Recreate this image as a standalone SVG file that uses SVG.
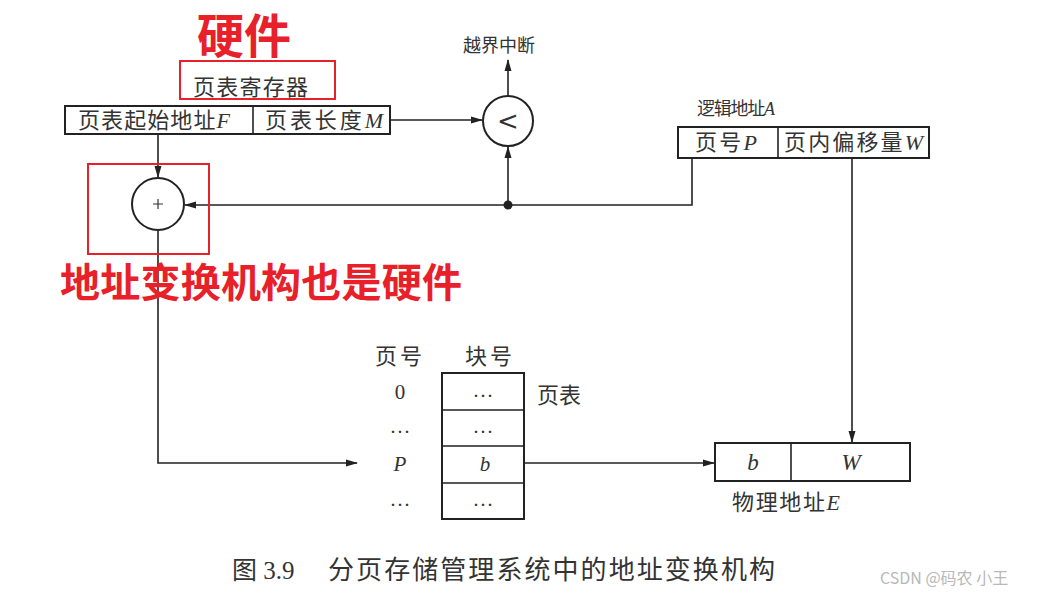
<svg xmlns="http://www.w3.org/2000/svg" width="1041" height="596" viewBox="0 0 1041 596">
<defs>
<marker id="arr" markerWidth="12" markerHeight="8" refX="11" refY="4" orient="auto" markerUnits="userSpaceOnUse">
<path d="M0,0.5 L12,4 L0,7.5 z" fill="#222"/>
</marker>
<style>
.ln{stroke:#222;stroke-width:1.6;fill:none}
.bx{stroke:#222;stroke-width:2;fill:#fff}
.t{font-family:"Noto Sans CJK SC","Liberation Serif",serif;fill:#333}
.v{font-family:"Liberation Serif",serif;font-style:italic}
.red{font-family:"Noto Sans CJK SC",sans-serif;fill:#e8202a;font-weight:bold}
.rb{stroke:#e8202a;stroke-width:2;fill:none}
</style>
</defs>
<rect width="1041" height="596" fill="#fff"/>

<g id="connectors">
<path class="ln" d="M158,134 V177" marker-end="url(#arr)"/>
<path class="ln" d="M692,158 V205 H185" marker-end="url(#arr)"/>
<path class="ln" d="M508,205 V147" marker-end="url(#arr)"/>
<path class="ln" d="M390,120 H482" marker-end="url(#arr)"/>
<path class="ln" d="M508,96 V60" marker-end="url(#arr)"/>
<path class="ln" d="M158,231 V463 H357" marker-end="url(#arr)"/>
<path class="ln" d="M524,463 H714" marker-end="url(#arr)"/>
<path class="ln" d="M852,158 V442" marker-end="url(#arr)"/>
<circle cx="508" cy="205" r="4.5" fill="#222"/>
</g>

<g id="hw-label">
<text class="red" x="197" y="53" font-size="47">硬件</text>
<rect class="rb" x="180" y="61" width="155" height="38"/>
</g>

<g id="page-table-register">
<text class="t" x="193" y="95" font-size="22" textLength="115" lengthAdjust="spacing">页表寄存器</text>
<rect class="bx" x="65" y="106" width="325" height="28"/>
<line class="ln" x1="253" y1="106" x2="253" y2="134" stroke-width="2"/>
<text class="t" x="78" y="128" font-size="22" textLength="152" lengthAdjust="spacing">页表起始地址<tspan class="v">F</tspan></text>
<text class="t" x="265" y="128" font-size="22" textLength="118" lengthAdjust="spacing">页表长度<tspan class="v">M</tspan></text>
</g>

<g id="compare">
<circle class="bx" cx="508" cy="121" r="25"/>
<text x="508" y="130" text-anchor="middle" font-family="DejaVu Sans, sans-serif" font-size="26" fill="#333">&lt;</text>
<text class="t" x="463" y="52" font-size="18" textLength="72" lengthAdjust="spacing">越界中断</text>
</g>

<g id="adder">
<circle class="bx" cx="158" cy="204" r="26"/>
<path d="M153,204 H163 M158,199 V209" stroke="#333" stroke-width="1.2"/>
<rect class="rb" x="88" y="164" width="121" height="90"/>
<text class="red" x="60" y="297" font-size="40" textLength="402" lengthAdjust="spacing">地址变换机构也是硬件</text>
</g>

<g id="logical-address">
<text class="t" x="697" y="115" font-size="18" textLength="78" lengthAdjust="spacing">逻辑地址<tspan class="v">A</tspan></text>
<rect class="bx" x="678" y="127" width="251" height="31"/>
<line class="ln" x1="778" y1="127" x2="778" y2="158" stroke-width="2"/>
<text class="t" x="695" y="150" font-size="22" textLength="62" lengthAdjust="spacing">页号<tspan class="v">P</tspan></text>
<text class="t" x="784" y="150" font-size="22" textLength="139" lengthAdjust="spacing">页内偏移量<tspan class="v">W</tspan></text>
</g>

<g id="page-table">
<text class="t" x="375" y="364" font-size="22" textLength="47" lengthAdjust="spacing">页号</text>
<text class="t" x="465" y="364" font-size="22" textLength="47" lengthAdjust="spacing">块号</text>
<rect class="bx" x="442" y="373" width="82" height="146"/>
<path class="ln" stroke-width="2" d="M442,410 H524 M442,446 H524 M442,483 H524"/>
<text class="t" x="537" y="403" font-size="22">页表</text>
<g font-family="Liberation Serif, serif" font-size="21" fill="#333" text-anchor="middle">
<text x="400" y="399">0</text>
<text x="400" y="439">···</text>
<text x="400" y="471" font-style="italic">P</text>
<text x="400" y="512">···</text>
<text x="483" y="403">···</text>
<text x="483" y="439">···</text>
<text x="485" y="471" font-style="italic">b</text>
<text x="483" y="512">···</text>
</g>
</g>

<g id="physical-address">
<rect class="bx" x="715" y="443" width="195" height="38"/>
<line class="ln" x1="791" y1="443" x2="791" y2="481" stroke-width="2"/>
<text class="v" x="753" y="470" text-anchor="middle" font-size="23" fill="#333">b</text>
<text class="v" x="851" y="470" text-anchor="middle" font-size="23" fill="#333">W</text>
<text class="t" x="732" y="510" font-size="22" textLength="108" lengthAdjust="spacing">物理地址<tspan class="v">E</tspan></text>
</g>

<g id="caption">
<text class="t" x="232" y="579" font-size="25">图<tspan font-family="Liberation Serif, serif"> 3.9</tspan></text>
<text class="t" x="328" y="579" font-size="26" textLength="447" lengthAdjust="spacing">分页存储管理系统中的地址变换机构</text>
</g>

<text x="880" y="584" font-family="Noto Sans CJK SC, sans-serif" font-size="16" fill="#b8b8b8">CSDN @码农 小王</text>
</svg>
